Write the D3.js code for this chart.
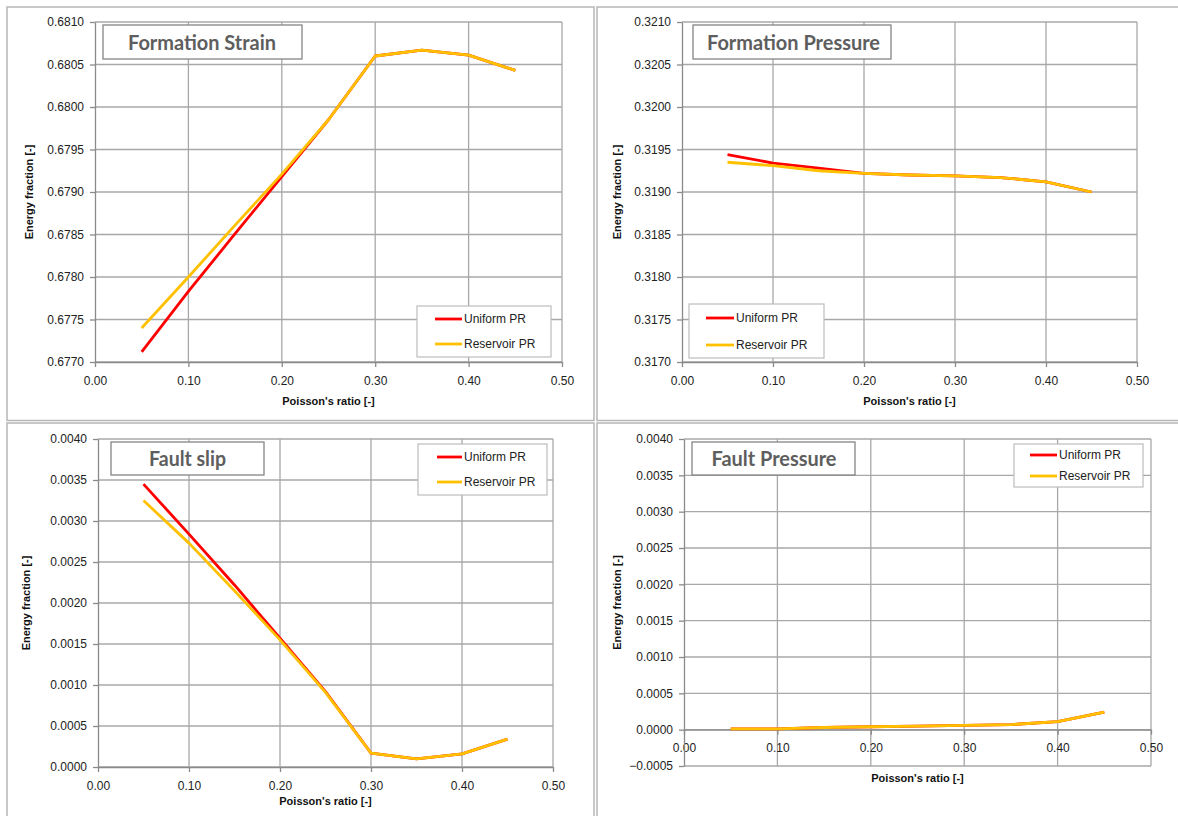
<!DOCTYPE html>
<html>
<head>
<meta charset="utf-8">
<script src="https://cdn.jsdelivr.net/npm/d3@7/dist/d3.min.js"></script>
<style>
  body { margin: 0; background: #ffffff; }
  svg { display: block; }
</style>
</head>
<body>
<svg id="chart" width="1178" height="816"></svg>
<script>
// Poisson's ratio sampled in every run
const poissonRatio = [0.05, 0.10, 0.15, 0.20, 0.25, 0.30, 0.35, 0.40, 0.45];

// Energy fractions per mechanism, uniform vs reservoir-only Poisson's ratio
const strainUniform   = [0.67712, 0.67783, 0.67851, 0.67918, 0.67985, 0.68060, 0.68067, 0.68061, 0.68043];
const strainReservoir = [0.67740, 0.67800, 0.67861, 0.67921, 0.67985, 0.68060, 0.68067, 0.68061, 0.68043];

const pressureUniform   = [0.31944, 0.31934, 0.31928, 0.31922, 0.31920, 0.31919, 0.31917, 0.31912, 0.31900];
const pressureReservoir = [0.31935, 0.31931, 0.31925, 0.31922, 0.31920, 0.31919, 0.31917, 0.31912, 0.31900];

const slipUniform   = [0.00345, 0.00284, 0.00222, 0.00157, 0.00092, 0.00017, 0.00010, 0.00016, 0.00034];
const slipReservoir = [0.00325, 0.00273, 0.00215, 0.00155, 0.00091, 0.00017, 0.00010, 0.00016, 0.00034];

const faultPressureUniform   = [0.00001, 0.00001, 0.00003, 0.00004, 0.00005, 0.00006, 0.00007, 0.00011, 0.00024];
const faultPressureReservoir = [0.00001, 0.00001, 0.00003, 0.00004, 0.00005, 0.00006, 0.00007, 0.00011, 0.00024];

// Axis ticks
const xTicks = [0.00, 0.10, 0.20, 0.30, 0.40, 0.50];
const strainTicks   = [0.6770, 0.6775, 0.6780, 0.6785, 0.6790, 0.6795, 0.6800, 0.6805, 0.6810];
const pressureTicks = [0.3170, 0.3175, 0.3180, 0.3185, 0.3190, 0.3195, 0.3200, 0.3205, 0.3210];
const slipTicks     = [0.0000, 0.0005, 0.0010, 0.0015, 0.0020, 0.0025, 0.0030, 0.0035, 0.0040];
const faultPressureTicks = [-0.0005, 0.0000, 0.0005, 0.0010, 0.0015, 0.0020, 0.0025, 0.0030, 0.0035, 0.0040];

const seriesNames = ["Uniform PR", "Reservoir PR"];
const seriesColors = ["#ff0000", "#ffc000"];
const panelTitles = ["Formation Strain", "Formation Pressure", "Fault slip", "Fault Pressure"];
const xAxisTitle = "Poisson's ratio [-]";
const yAxisTitle = "Energy fraction [-]";

// Layout of the four chart panels
const panels = [
  { frame: [7, 7, 587, 413.5], plot: [95, 22, 562, 362], series: [strainUniform, strainReservoir], ticks: strainTicks,
    title: panelTitles[0], titleBox: [103, 25, 199, 34], titleX: 128, titleW: 148, titleY: 50,
    legend: [417, 306, 134, 51], legendLine: [435, 462], legendRows: [319, 344],
    xTitleY: 405, yTitleX: 29 },
  { frame: [597, 7, 590, 413.5], plot: [682, 22, 1137, 362], series: [pressureUniform, pressureReservoir], ticks: pressureTicks,
    title: panelTitles[1], titleBox: [693, 25, 198, 34], titleX: 707, titleW: 173, titleY: 50,
    legend: [689, 304, 135, 54], legendLine: [706, 734], legendRows: [318, 345],
    xTitleY: 405, yTitleX: 617 },
  { frame: [7, 423, 587, 400], plot: [98, 439, 553, 767], series: [slipUniform, slipReservoir], ticks: slipTicks,
    title: panelTitles[2], titleBox: [111, 442, 153, 33], titleX: 149, titleW: 77, titleY: 466,
    legend: [418, 444, 129, 51], legendLine: [437, 462], legendRows: [457, 482],
    xTitleY: 805, yTitleX: 26 },
  { frame: [597, 423, 590, 400], plot: [684, 439, 1151, 766], series: [faultPressureUniform, faultPressureReservoir], ticks: faultPressureTicks,
    title: panelTitles[3], titleBox: [692, 442, 163, 33], titleX: 711.5, titleW: 125, titleY: 466,
    legend: [1014, 444, 129, 43], legendLine: [1030, 1057], legendRows: [455, 476],
    xTitleY: 782, yTitleX: 617 }
];

const svg = d3.select("#chart");
const fmtX = d3.format(".2f");
const fmtY = d3.format(".4f");
const labelFont = "'Liberation Sans', Arial, sans-serif";

panels.forEach(p => {
  const g = svg.append("g");
  const [x0, y0, x1, y1] = p.plot;

  // panel frame
  g.append("rect")
    .attr("x", p.frame[0]).attr("y", p.frame[1])
    .attr("width", p.frame[2]).attr("height", p.frame[3])
    .attr("fill", "#fff").attr("stroke", "#b7b7b7").attr("stroke-width", 1.5);

  const x = d3.scaleLinear().domain([0, 0.5]).range([x0, x1]);
  const y = d3.scaleLinear().domain(d3.extent(p.ticks)).range([y1, y0]);

  // gridlines
  g.append("g").selectAll("line").data(p.ticks).join("line")
    .attr("x1", x0).attr("x2", x1)
    .attr("y1", d => y(d)).attr("y2", d => y(d))
    .attr("stroke", "#a8a8a8").attr("stroke-width", 1.3);
  g.append("g").selectAll("line").data(xTicks.slice(1)).join("line")
    .attr("x1", d => x(d)).attr("x2", d => x(d))
    .attr("y1", y0).attr("y2", y1)
    .attr("stroke", "#a8a8a8").attr("stroke-width", 1.3);

  // axes
  const axisY = y(Math.max(0, d3.min(p.ticks)));
  const xAxis = g.append("g")
    .attr("transform", `translate(0,${axisY})`)
    .call(d3.axisBottom(x).tickValues(xTicks).tickFormat(fmtX).tickSizeInner(5).tickSizeOuter(0).tickPadding(9));
  const yAxis = g.append("g")
    .attr("transform", `translate(${x0},0)`)
    .call(d3.axisLeft(y).tickValues(p.ticks).tickFormat(fmtY).tickSizeInner(5).tickSizeOuter(0).tickPadding(6));
  [xAxis, yAxis].forEach(a => {
    a.selectAll("path, line").attr("stroke", "#8a8a8a").attr("stroke-width", 1.3);
    a.selectAll("text").attr("fill", "#222").style("font-family", labelFont).style("font-size", "12px");
  });

  // axis titles
  g.append("text")
    .attr("x", (x0 + x1) / 2).attr("y", p.xTitleY)
    .attr("text-anchor", "middle")
    .style("font-family", labelFont).style("font-size", "11px").style("font-weight", "bold")
    .attr("fill", "#111").text(xAxisTitle);
  g.append("text")
    .attr("transform", `translate(${p.yTitleX},${(y0 + y1) / 2}) rotate(-90)`)
    .attr("text-anchor", "middle").attr("dy", "0.35em")
    .style("font-family", labelFont).style("font-size", "11px").style("font-weight", "bold")
    .attr("fill", "#111").text(yAxisTitle);

  // data lines
  const line = d3.line().x(d => x(d[0])).y(d => y(d[1]));
  p.series.forEach((vals, i) => {
    g.append("path")
      .datum(poissonRatio.map((r, k) => [r, vals[k]]))
      .attr("d", line)
      .attr("fill", "none")
      .attr("stroke", seriesColors[i])
      .attr("stroke-width", 2.8)
      .attr("stroke-linejoin", "round");
  });

  // title box
  g.append("rect")
    .attr("x", p.titleBox[0]).attr("y", p.titleBox[1])
    .attr("width", p.titleBox[2]).attr("height", p.titleBox[3])
    .attr("fill", "#fff").attr("stroke", "#858585").attr("stroke-width", 1.3);
  g.append("text")
    .attr("x", p.titleX).attr("y", p.titleY)
    .attr("textLength", p.titleW).attr("lengthAdjust", "spacingAndGlyphs")
    .style("font-family", "Lato, 'Open Sans', sans-serif").style("font-size", "21px").style("font-weight", "bold")
    .attr("fill", "#5e5e5e").text(p.title);

  // legend
  const [lx, ly, lw, lh] = p.legend;
  g.append("rect")
    .attr("x", lx).attr("y", ly).attr("width", lw).attr("height", lh)
    .attr("fill", "#fff").attr("stroke", "#bdbdbd").attr("stroke-width", 1.2);
  seriesNames.forEach((name, i) => {
    const ry = p.legendRows[i];
    g.append("line")
      .attr("x1", p.legendLine[0]).attr("x2", p.legendLine[1])
      .attr("y1", ry).attr("y2", ry)
      .attr("stroke", seriesColors[i]).attr("stroke-width", 2.8);
    g.append("text")
      .attr("x", p.legendLine[1] + 2).attr("y", ry).attr("dy", "0.35em")
      .style("font-family", labelFont).style("font-size", "12px")
      .attr("fill", "#222").text(name);
  });
});
</script>
</body>
</html>
